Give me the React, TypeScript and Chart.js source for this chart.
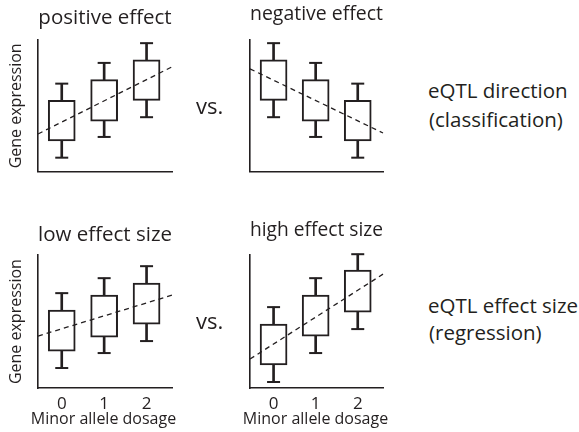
import React, { useEffect, useRef } from "react";
import { Chart, registerables } from "chart.js";

Chart.register(...registerables);

const FONT = "'Open Sans', 'DejaVu Sans', sans-serif";
const INK = "#231f20";

// shared axes
const dosage = [0, 1, 2];
const dosageLabels = ["0", "1", "2"];
const xAxisTitle = "Minor allele dosage";
const yAxisTitle = "Gene expression";
const xRange = [-0.56, 2.6];
const yRange = [0, 133];

// positive effect
const posQ1 = [31, 51, 72];
const posQ3 = [72, 93, 113];
const posMin = [14, 35, 55];
const posMax = [89, 110, 130];
const posTrend = [38, 106];

// negative effect
const negQ1 = [72, 51, 31];
const negQ3 = [113, 93, 72];
const negMin = [55, 35, 14];
const negMax = [130, 110, 89];
const negTrend = [104, 39];

// low effect size
const lowQ1 = [37, 51, 64];
const lowQ3 = [78, 93, 105];
const lowMin = [20, 35, 47];
const lowMax = [95, 110, 122];
const lowTrend = [52, 93];

// high effect size
const highQ1 = [23, 52, 76];
const highQ3 = [64, 93, 118];
const highMin = [6, 35, 59];
const highMax = [81, 110, 134];
const highTrend = [29, 114];

type PanelProps = {
  title: string;
  q1: number[];
  q3: number[];
  lo: number[];
  hi: number[];
  trend: number[];
  showY: boolean;
  showX: boolean;
  left: number;
  top: number;
  width: number;
  height: number;
  pad: { left: number; right: number; top: number; bottom: number };
  titlePad: { top: number; bottom: number };
};

function Panel(p: PanelProps) {
  const ref = useRef<HTMLCanvasElement>(null);
  useEffect(() => {
    if (!ref.current) return;
    const chart = new Chart(ref.current, {
      type: "bar",
      data: {
        datasets: [
          {
            type: "line",
            data: [
              { x: xRange[0], y: p.trend[0] },
              { x: xRange[1], y: p.trend[1] },
            ],
            borderColor: INK,
            borderWidth: 1.3,
            borderDash: [5, 4],
            pointRadius: 0,
            fill: false,
            order: 0,
            clip: false,
          } as any,
          {
            type: "line",
            data: dosage.flatMap((d, i) => [
              { x: d, y: p.lo[i] },
              { x: d, y: p.hi[i] },
            ]),
            showLine: false,
            pointStyle: "line",
            pointRadius: 6.5,
            pointBorderWidth: 2,
            pointBorderColor: INK,
            borderColor: INK,
            order: 1,
            clip: false,
          } as any,
          {
            type: "bar",
            data: dosage.map((d, i) => ({ x: d, y: [p.q1[i], p.q3[i]] })),
            backgroundColor: "#ffffff",
            borderColor: INK,
            borderWidth: 2,
            borderSkipped: false,
            barThickness: 27,
            grouped: false,
            order: 2,
          } as any,
          {
            type: "bar",
            data: dosage.map((d, i) => ({ x: d, y: [p.lo[i], p.hi[i]] })),
            backgroundColor: INK,
            borderWidth: 0,
            barThickness: 2,
            grouped: false,
            order: 3,
            clip: false,
          } as any,
        ],
      },
      options: {
        responsive: false,
        animation: false,
        events: [],
        layout: { padding: p.pad },
        plugins: {
          legend: { display: false },
          tooltip: { enabled: false },
          title: {
            display: true,
            text: p.title,
            color: INK,
            fullSize: false,
            font: { family: FONT, size: 20.5, weight: "normal", lineHeight: 1.2 },
            padding: p.titlePad,
          },
        },
        scales: {
          x: {
            type: "linear",
            min: xRange[0],
            max: xRange[1],
            offset: false,
            grid: { display: false, drawTicks: false },
            border: { display: true, color: INK, width: 1.6 },
            afterBuildTicks: (scale: any) => {
              scale.ticks = dosage.map((v) => ({ value: v }));
            },
            ticks: {
              display: p.showX,
              color: INK,
              padding: 7.5,
              font: { family: FONT, size: 17, lineHeight: 1.0 },
              callback: (v: any) => dosageLabels[dosage.indexOf(Number(v))] ?? "",
            },
            title: { display: false },
          },
          y: {
            type: "linear",
            min: yRange[0],
            max: yRange[1],
            grid: { display: false, drawTicks: false },
            border: { display: true, color: INK, width: 1.6 },
            ticks: { display: false },
            title: {
              display: p.showY,
              text: yAxisTitle,
              color: INK,
              font: { family: FONT, size: 16, lineHeight: 1.2 },
              padding: { top: 7, bottom: p.pad.left === 0 ? 11.8 : 0 },
            },
          },
        },
      } as any,
    });
    return () => chart.destroy();
  }, []);
  return (
    <div style={{ position: "absolute", left: p.left, top: p.top, width: p.width, height: p.height }}>
      <canvas ref={ref} width={p.width} height={p.height} style={{ width: p.width, height: p.height, display: "block" }} />
    </div>
  );
}

function Label(props: { text: string; left: number; top: number; size: number; width?: number }) {
  return (
    <div
      style={{
        position: "absolute",
        left: props.left,
        top: props.top,
        width: props.width,
        textAlign: props.width ? "center" : "left",
        fontSize: props.size,
        lineHeight: 1,
        fontFamily: FONT,
        color: INK,
        whiteSpace: "nowrap",
      }}
    >
      {props.text}
    </div>
  );
}

export default function App() {
  return (
    <div style={{ position: "fixed", left: 0, top: 0, width: 579, height: 432, background: "#fff", overflow: "hidden" }}>
      <Panel
        title="positive effect"
        q1={posQ1} q3={posQ3} lo={posMin} hi={posMax} trend={posTrend}
        showY={true} showX={false}
        left={0} top={0} width={200} height={180}
        pad={{ left: 0, right: 28, top: 0, bottom: 7 }}
        titlePad={{ top: 6, bottom: 9.6 }}
      />
      <Panel
        title="negative effect"
        q1={negQ1} q3={negQ3} lo={negMin} hi={negMax} trend={negTrend}
        showY={false} showX={false}
        left={200} top={0} width={200} height={180}
        pad={{ left: 50, right: 17, top: 0, bottom: 7 }}
        titlePad={{ top: 2, bottom: 13.6 }}
      />
      <Panel
        title="low effect size"
        q1={lowQ1} q3={lowQ3} lo={lowMin} hi={lowMax} trend={lowTrend}
        showY={true} showX={true}
        left={0} top={215} width={200} height={217}
        pad={{ left: 0, right: 28, top: 0, bottom: 12 }}
        titlePad={{ top: 8, bottom: 7.6 }}
      />
      <Panel
        title="high effect size"
        q1={highQ1} q3={highQ3} lo={highMin} hi={highMax} trend={highTrend}
        showY={false} showX={true}
        left={200} top={215} width={200} height={217}
        pad={{ left: 50, right: 17, top: 0, bottom: 12 }}
        titlePad={{ top: 3, bottom: 12.6 }}
      />
      <Label text={xAxisTitle} left={3.5} top={410} size={16} width={200} />
      <Label text={xAxisTitle} left={215.5} top={410} size={16} width={200} />
      <Label text="vs." left={196} top={93.5} size={22} />
      <Label text="vs." left={196} top={309} size={22} />
      <Label text="eQTL direction" left={428} top={80} size={20.5} />
      <Label text="(classification)" left={429} top={109} size={20.5} />
      <Label text="eQTL effect size" left={428} top={295} size={20.5} />
      <Label text="(regression)" left={429} top={321.5} size={20.5} />
    </div>
  );
}
